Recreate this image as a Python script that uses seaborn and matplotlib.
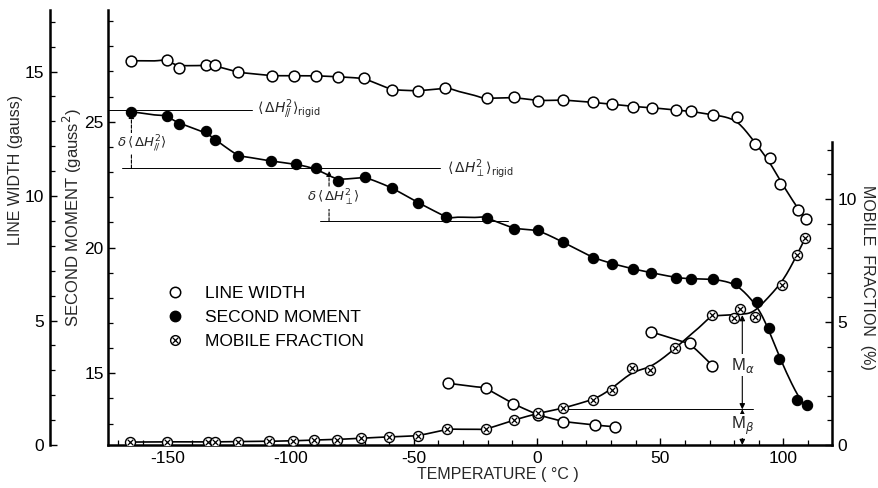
import numpy as np
import matplotlib
matplotlib.use("Agg")
import matplotlib.pyplot as plt
import seaborn as sns
from matplotlib.lines import Line2D
from matplotlib.patches import FancyArrowPatch
from matplotlib.ticker import MultipleLocator

# ---------------- data ----------------
temp_lw = [-164.9, -150.0, -145.3, -134.5, -130.7, -121.5, -107.7, -98.5, -89.7, -80.9,
           -70.1, -59.0, -48.2, -37.2, -20.4, -9.2, 0.5, 10.4, 22.8, 30.6, 39.1, 46.5,
           56.4, 62.5, 71.6, 81.0, 88.5, 94.6, 98.6, 106.0, 109.2]
line_width = [15.43, 15.46, 15.15, 15.26, 15.26, 14.97, 14.83, 14.83, 14.83, 14.79,
              14.73, 14.26, 14.22, 14.33, 13.92, 13.96, 13.82, 13.86, 13.76, 13.68, 13.59, 13.55,
              13.45, 13.41, 13.25, 13.16, 12.08, 11.54, 10.48, 9.44, 9.08]

temp_nar1 = [-36.2, -20.7, -9.6, 0.5, 10.7, 23.5, 31.7]
narrow1 = [2.48, 2.28, 1.65, 1.20, 0.94, 0.80, 0.73]
temp_nar2 = [46.1, 62.1, 71.2]
narrow2 = [4.55, 4.08, 3.19]

temp_sm = [-164.9, -150.0, -145.3, -134.5, -130.7, -121.5, -108.1, -97.9, -89.7, -80.9,
           -69.8, -59.0, -48.2, -37.1, -20.4, -9.2, 0.5, 10.4, 22.6, 30.6, 38.9, 46.2,
           56.2, 62.3, 71.4, 80.6, 89.2, 94.3, 98.2, 105.4, 109.5]
second_moment = [25.40, 25.23, 24.90, 24.63, 24.27, 23.65, 23.44, 23.31, 23.15, 22.66,
                 22.81, 22.38, 21.78, 21.22, 21.18, 20.74, 20.70, 20.22, 19.60, 19.35, 19.15, 19.00,
                 18.80, 18.75, 18.75, 18.60, 17.85, 16.79, 15.56, 13.94, 13.74]

temp_mf = [-165.0, -150.3, -133.5, -130.5, -121.5, -108.8, -99.0, -90.6, -81.3, -71.3,
           -60.2, -48.2, -36.6, -20.7, -9.2, 0.3, 10.4, 22.6, 30.6, 38.7, 45.9, 56.0,
           71.2, 80.1, 82.4, 88.5, 99.4, 105.4, 108.8]
mobile_fraction = [0.12, 0.13, 0.12, 0.13, 0.14, 0.15, 0.17, 0.20, 0.22, 0.28,
                   0.33, 0.37, 0.64, 0.64, 1.02, 1.29, 1.49, 1.83, 2.24, 3.12, 3.05, 3.93,
                   5.28, 5.15, 5.51, 5.22, 6.50, 7.72, 8.40]

x_ticks = [-150, -100, -50, 0, 50, 100]
sm_ticks = [15, 20, 25]
lw_ticks = [0, 5, 10, 15]
mf_ticks = [0, 5, 10]

# annotation levels
sm_rigid1 = 25.47
sm_rigid2 = 23.15
sm_level3 = 21.05
mf_beta = 1.45
mf_top = 5.28
t_marker = 83.3


def smooth(x, y, bw, n=400):
    x = np.asarray(x, float)
    y = np.asarray(y, float)
    xs = np.linspace(x.min(), x.max(), n)
    ys = np.empty_like(xs)
    for i, x0 in enumerate(xs):
        w = np.exp(-0.5 * ((x - x0) / bw) ** 2)
        W = w.sum()
        mx = (w * x).sum() / W
        my = (w * y).sum() / W
        b = (w * (x - mx) * (y - my)).sum() / ((w * (x - mx) ** 2).sum() + 1e-12)
        ys[i] = my + b * (x0 - mx)
    return xs, ys


sns.set_style("ticks")
plt.rcParams["font.family"] = ["Liberation Sans", "DejaVu Sans"]
plt.rcParams["axes.unicode_minus"] = False
plt.rcParams["mathtext.fontset"] = "dejavusans"

W, H = 879, 488
fig = plt.figure(figsize=(W / 100, H / 100), dpi=100)
L, R, B, T = 108, 832, 445, 10
ax = fig.add_axes([L / W, 1 - B / H, (R - L) / W, (B - T) / H])
ax.patch.set_alpha(0)
ax_lw = ax.twinx()
ax_mf = ax.twinx()

ax.set_xlim(-174.1, 119.7)
ax.set_ylim(12.15, 29.44)
ax_lw.set_ylim(0, 17.47)
ax_mf.set_ylim(0, 17.68)

tick_family = ["Liberation Sans", "DejaVu Sans"]
lab_family = ["Liberation Sans", "DejaVu Sans"]

# spines
for s in ["top", "right"]:
    ax.spines[s].set_visible(False)
for s in ["top", "right", "bottom"]:
    ax_lw.spines[s].set_visible(False)
ax_lw.spines["left"].set_visible(True)
ax_lw.spines["left"].set_position(("axes", (50 - L) / (R - L)))
ax_lw.yaxis.set_ticks_position("left")
ax_lw.yaxis.set_label_position("left")
for s in ["top", "left", "bottom"]:
    ax_mf.spines[s].set_visible(False)
ax_mf.spines["right"].set_bounds(0, 12.3)
for a in (ax, ax_lw, ax_mf):
    for sp in a.spines.values():
        sp.set_linewidth(1.8)
        sp.set_color("k")

# ticks
ax.set_xticks(x_ticks)
ax.xaxis.set_minor_locator(MultipleLocator(10))
ax.set_yticks(sm_ticks)
ax.yaxis.set_minor_locator(MultipleLocator(1))
ax_lw.set_yticks(lw_ticks)
ax_lw.yaxis.set_minor_locator(MultipleLocator(1))
ax_mf.set_yticks(mf_ticks)
ax_mf.set_yticks([1, 2, 3, 4, 6, 7, 8, 9, 11, 12], minor=True)
for a in (ax, ax_lw, ax_mf):
    a.tick_params(which="major", direction="in", length=5, width=1.0, color="k", pad=4)
    a.tick_params(which="minor", direction="in", length=3.5, width=0.9, color="k")
    for lab in a.get_xticklabels() + a.get_yticklabels():
        lab.set_fontfamily(tick_family)
        lab.set_fontsize(12.5)
        lab.set_color("k")
ax.tick_params(axis="y", which="major", pad=3)
ax_mf.tick_params(axis="y", which="both", right=True, left=False)

# ---------------- curves ----------------
lk = dict(color="k", lw=1.2, zorder=2, legend=False)
xs, ys = smooth(temp_lw, line_width, 5)
sns.lineplot(x=xs, y=ys, ax=ax_lw, **lk)
xs, ys = smooth(temp_nar1, narrow1, 5)
sns.lineplot(x=xs, y=ys, ax=ax_lw, **lk)
xs, ys = smooth(temp_nar2, narrow2, 6)
sns.lineplot(x=xs, y=ys, ax=ax_lw, **lk)
xs, ys = smooth(temp_sm, second_moment, 5)
sns.lineplot(x=xs, y=ys, ax=ax, **lk)
xs, ys = smooth(temp_mf, mobile_fraction, 5.5)
sns.lineplot(x=xs, y=ys, ax=ax_mf, **lk)

# ---------------- markers ----------------
open_kw = dict(marker="o", s=60, facecolor="white", edgecolor="k", linewidth=1.1, zorder=4, legend=False)
sns.scatterplot(x=temp_lw, y=line_width, ax=ax_lw, **open_kw)
sns.scatterplot(x=temp_nar1, y=narrow1, ax=ax_lw, **open_kw)
sns.scatterplot(x=temp_nar2, y=narrow2, ax=ax_lw, **open_kw)
sns.scatterplot(x=temp_sm, y=second_moment, ax=ax, marker="o", s=55, color="k",
                edgecolor="k", linewidth=0.8, zorder=4, legend=False)
sns.scatterplot(x=temp_mf, y=mobile_fraction, ax=ax_mf, marker="o", s=52, facecolor="white",
                edgecolor="k", linewidth=1.0, zorder=4, legend=False)
sns.scatterplot(x=temp_mf, y=mobile_fraction, ax=ax_mf, marker="x", s=16, color="k",
                linewidth=0.9, zorder=5, legend=False)

# ---------------- annotations ----------------
thin = dict(color="k", lw=0.7, zorder=1)
ax.plot([-174.1, -115.8], [sm_rigid1, sm_rigid1], **thin)
ax.text(-113.5, sm_rigid1, r"$\langle\,\Delta H^{2}_{/\!/}\rangle_{\rm rigid}$", fontsize=10,
        va="center", ha="left")
ax.plot([-168.5, -39.4], [sm_rigid2, sm_rigid2], **thin)
ax.text(-36.5, sm_rigid2, r"$\langle\,\Delta H^{2}_{\perp}\rangle_{\rm rigid}$", fontsize=10,
        va="center", ha="left")
ax.plot([-88.0, -11.8], [sm_level3, sm_level3], **thin)


def arrow(a, p0, p1, style, ls="-"):
    a.add_patch(FancyArrowPatch(p0, p1, arrowstyle=style, mutation_scale=8, lw=0.8,
                                color="k", linestyle=ls, shrinkA=0, shrinkB=0, zorder=2))


arrow(ax, (-164.6, sm_rigid2), (-164.6, second_moment[0] - 0.05), "-|>", (0, (3, 1.5)))
ax.text(-170.5, 24.15, r"$\delta\,\langle\,\Delta H^{2}_{/\!/}\rangle$", fontsize=9.5,
        va="center", ha="left", bbox=dict(facecolor="white", edgecolor="none", pad=0.5), zorder=3)
arrow(ax, (-84.4, sm_level3), (-84.4, sm_rigid2 - 0.1), "-|>", (0, (3, 1.5)))
ax.text(-82.4, 21.96, r"$\delta\,\langle\,\Delta H^{2}_{\perp}\rangle$", fontsize=9.5,
        va="center", ha="center", bbox=dict(facecolor="white", edgecolor="none", pad=0.5), zorder=3)

ax_mf.plot([10.6, 87.7], [mf_beta, mf_beta], **thin)
arrow(ax_mf, (t_marker, mf_beta), (t_marker, mf_top), "<|-|>")
arrow(ax_mf, (t_marker, 0), (t_marker, mf_beta), "<|-|>")
ax_mf.text(t_marker, 3.25, r"M$_{\alpha}$", fontsize=12, ha="center", va="center",
           bbox=dict(facecolor="white", edgecolor="none", pad=1), zorder=6)
ax_mf.text(t_marker, 0.78, r"M$_{\beta}$", fontsize=12, ha="center", va="center",
           bbox=dict(facecolor="white", edgecolor="none", pad=0.5), zorder=6)

# ---------------- labels ----------------
fig.text(498 / W, 1 - 474 / H, "TEMPERATURE ( °C )", fontsize=11.5, family=lab_family,
         ha="center", va="center")
fig.text(72 / W, 1 - 218 / H, "SECOND MOMENT (gauss$^2$)", fontsize=12, family=lab_family,
         ha="center", va="center", rotation=90)
fig.text(16 / W, 1 - 170 / H, "LINE WIDTH (gauss)", fontsize=11.5, family=lab_family,
         ha="center", va="center", rotation=90)
fig.text(868 / W, 1 - 277 / H, "MOBILE  FRACTION  (%)", fontsize=11.5, family=lab_family,
         ha="center", va="center", rotation=-90)

# ---------------- legend ----------------
h_open = Line2D([], [], ls="", marker="o", ms=7.5, mfc="white", mec="k", mew=1.1)
h_fill = Line2D([], [], ls="", marker="o", ms=7.5, mfc="k", mec="k")
h_mo = Line2D([], [], ls="", marker="o", ms=7, mfc="white", mec="k", mew=1.0)
h_mx = Line2D([], [], ls="", marker="x", ms=4, mec="k", mew=0.9)
leg = ax.legend([h_open, h_fill, (h_mo, h_mx)], ["LINE WIDTH", "SECOND MOMENT", "MOBILE FRACTION"],
                loc="upper left", bbox_to_anchor=(166 / W, 1 - 286 / H), bbox_transform=fig.transFigure,
                frameon=False, borderpad=0, borderaxespad=0, handlelength=1.0, handletextpad=1.25,
                labelspacing=0.5, prop=dict(family=lab_family, size=12.5))
for t in leg.get_texts():
    t.set_color("k")

fig.savefig("out.png", dpi=100)
